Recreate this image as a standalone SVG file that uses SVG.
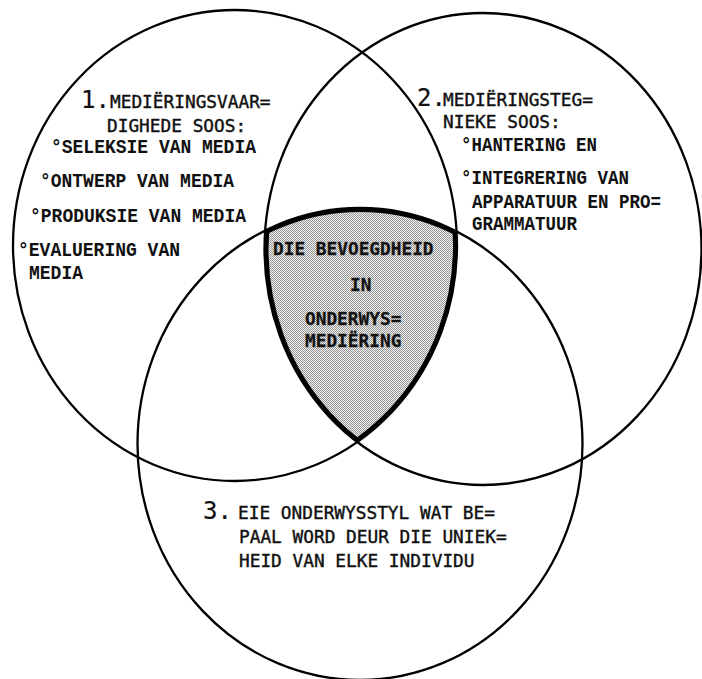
<svg xmlns="http://www.w3.org/2000/svg" width="702" height="679" viewBox="0 0 702 679">
  <defs>
    <style>
      .ring { fill: none; stroke: #000; stroke-width: 2.3; }
      .rim { fill: none; stroke: #000; stroke-width: 8; }
      .head { font-family: "DejaVu Sans Mono", "Liberation Mono", monospace; font-size: 17.8px; fill: #111; stroke: #111; stroke-width: 0.4; }
      .num { font-size: 24px; stroke-width: 0.2; }
      .item { font-family: "Liberation Mono", "Courier New", monospace; font-weight: bold; font-size: 21px; fill: #111; }
      .core { font-family: "DejaVu Sans Mono", "Liberation Mono", monospace; font-weight: bold; font-size: 17.8px; fill: #111; stroke: #222; stroke-width: 0.3; }
    </style>
    <!-- fine halftone dither for the shared core -->
    <pattern id="dither" width="2" height="2" patternUnits="userSpaceOnUse">
      <rect width="2" height="2" fill="#f2f2f2"/>
      <rect width="1" height="1" fill="#959595"/>
      <rect x="1" y="1" width="1" height="1" fill="#959595"/>
    </pattern>
    <ellipse id="setL" cx="235" cy="245.5" rx="222" ry="235.5"/>
    <ellipse id="setR" cx="483" cy="249" rx="218.5" ry="236"/>
    <ellipse id="setB" cx="360" cy="444" rx="222.5" ry="236"/>
    <clipPath id="clipL"><use href="#setL"/></clipPath>
    <clipPath id="clipR"><use href="#setR"/></clipPath>
    <clipPath id="clipB"><use href="#setB"/></clipPath>
  </defs>

  <rect width="702" height="679" fill="#fff"/>

  <!-- core: intersection of all three sets -->
  <g id="core">
    <g clip-path="url(#clipL)">
      <g clip-path="url(#clipR)">
        <g clip-path="url(#clipB)">
          <rect x="200" y="180" width="320" height="300" fill="url(#dither)"/>
          <use href="#setL" class="rim"/>
          <use href="#setR" class="rim"/>
          <use href="#setB" class="rim"/>
        </g>
      </g>
    </g>
    <text class="core" x="273" y="255">DIE BEVOEGDHEID</text>
    <text class="core" x="350" y="291">IN</text>
    <text class="core" x="305" y="325">ONDERWYS=</text>
    <text class="core" x="305" y="347">MEDIËRING</text>
  </g>

  <!-- set 1: mediation skills -->
  <g id="set-1">
    <use href="#setL" class="ring"/>
    <text class="head" x="81" y="108"><tspan class="num">1.</tspan><tspan x="110">MEDIËRINGSVAAR=</tspan></text>
    <text class="head" x="107" y="132">DIGHEDE SOOS:</text>
    <text class="item" x="51" y="153" textLength="205" lengthAdjust="spacingAndGlyphs">°SELEKSIE VAN MEDIA</text>
    <text class="item" x="40" y="187" textLength="194" lengthAdjust="spacingAndGlyphs">°ONTWERP VAN MEDIA</text>
    <text class="item" x="30" y="222" textLength="216" lengthAdjust="spacingAndGlyphs">°PRODUKSIE VAN MEDIA</text>
    <text class="item" x="18" y="256" textLength="162" lengthAdjust="spacingAndGlyphs">°EVALUERING VAN</text>
    <text class="item" x="29" y="279" textLength="54" lengthAdjust="spacingAndGlyphs">MEDIA</text>
  </g>

  <!-- set 2: mediation techniques -->
  <g id="set-2">
    <use href="#setR" class="ring"/>
    <text class="head" x="417" y="106"><tspan class="num">2.</tspan><tspan x="443">MEDIËRINGSTEG=</tspan></text>
    <text class="head" x="443" y="128">NIEKE SOOS:</text>
    <text class="item" x="461" y="151" textLength="136" lengthAdjust="spacingAndGlyphs">°HANTERING EN</text>
    <text class="item" x="461" y="184" textLength="168" lengthAdjust="spacingAndGlyphs">°INTEGRERING VAN</text>
    <text class="item" x="472" y="208" textLength="189" lengthAdjust="spacingAndGlyphs">APPARATUUR EN PRO=</text>
    <text class="item" x="472" y="230" textLength="105" lengthAdjust="spacingAndGlyphs">GRAMMATUUR</text>
  </g>

  <!-- set 3: teaching style -->
  <g id="set-3">
    <use href="#setB" class="ring"/>
    <text class="head" x="203" y="519"><tspan class="num">3.</tspan><tspan x="238">EIE ONDERWYSSTYL WAT BE=</tspan></text>
    <text class="head" x="239" y="543">PAAL WORD DEUR DIE UNIEK=</text>
    <text class="head" x="239" y="567">HEID VAN ELKE INDIVIDU</text>
  </g>
</svg>
